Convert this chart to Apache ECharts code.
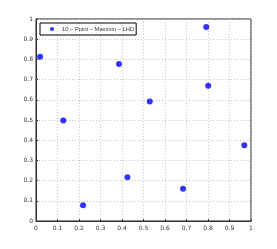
<!DOCTYPE html>
<html><head><meta charset="utf-8">
<script src="https://cdn.jsdelivr.net/npm/echarts@6/dist/echarts.min.js"></script>
<style>html,body{margin:0;padding:0;background:#fff}#c{width:277px;height:249px}</style>
</head><body><div id="c"></div>
<script>
const seriesName = '10 – Point – Maximin – LHD';
const xValues = [0.019, 0.127, 0.219, 0.386, 0.425, 0.529, 0.684, 0.792, 0.801, 0.969];
const yValues = [0.813, 0.498, 0.078, 0.777, 0.216, 0.591, 0.160, 0.960, 0.670, 0.375];
const ticks = [0, 0.1, 0.2, 0.3, 0.4, 0.5, 0.6, 0.7, 0.8, 0.9, 1];

const chart = echarts.init(document.getElementById('c'));
const axisCommon = {
  type: 'value', min: 0, max: 1, interval: 0.1,
  axisLine: {show: true, onZero: false, lineStyle: {color: '#333', width: 1}},
  axisTick: {show: true, inside: true, length: 2, lineStyle: {color: '#333'}},
  axisLabel: {fontSize: 6, color: '#333', fontFamily: 'DejaVu Sans', margin: 3,
    formatter: v => String(+v.toFixed(1))},
  splitLine: {show: true, lineStyle: {color: '#c4c4c4', type: [1, 2], width: 1}}
};
chart.setOption({
  animation: false,
  grid: {left: 36, right: 26, top: 19, bottom: 28, show: true, borderColor: '#222', borderWidth: 1},
  xAxis: Object.assign({}, axisCommon, {axisLabel: Object.assign({}, axisCommon.axisLabel, {margin: 4})}),
  yAxis: axisCommon,
  legend: {
    left: 40, top: 23, orient: 'vertical',
    borderColor: '#000', borderWidth: 1, borderRadius: 0,
    padding: [3, 2, 3, 10], itemWidth: 4, itemHeight: 4, itemGap: 5,
    textStyle: {fontSize: 5.8, color: '#333', fontFamily: 'Liberation Sans', padding: [0, 0, 0, 3]},
    data: [{name: seriesName, icon: 'circle'}]
  },
  series: [{
    name: seriesName, type: 'scatter', symbolSize: 6,
    itemStyle: {color: '#0000ff'},
    data: xValues.map((x, i) => [x, yValues[i]])
  }]
});
</script></body></html>
